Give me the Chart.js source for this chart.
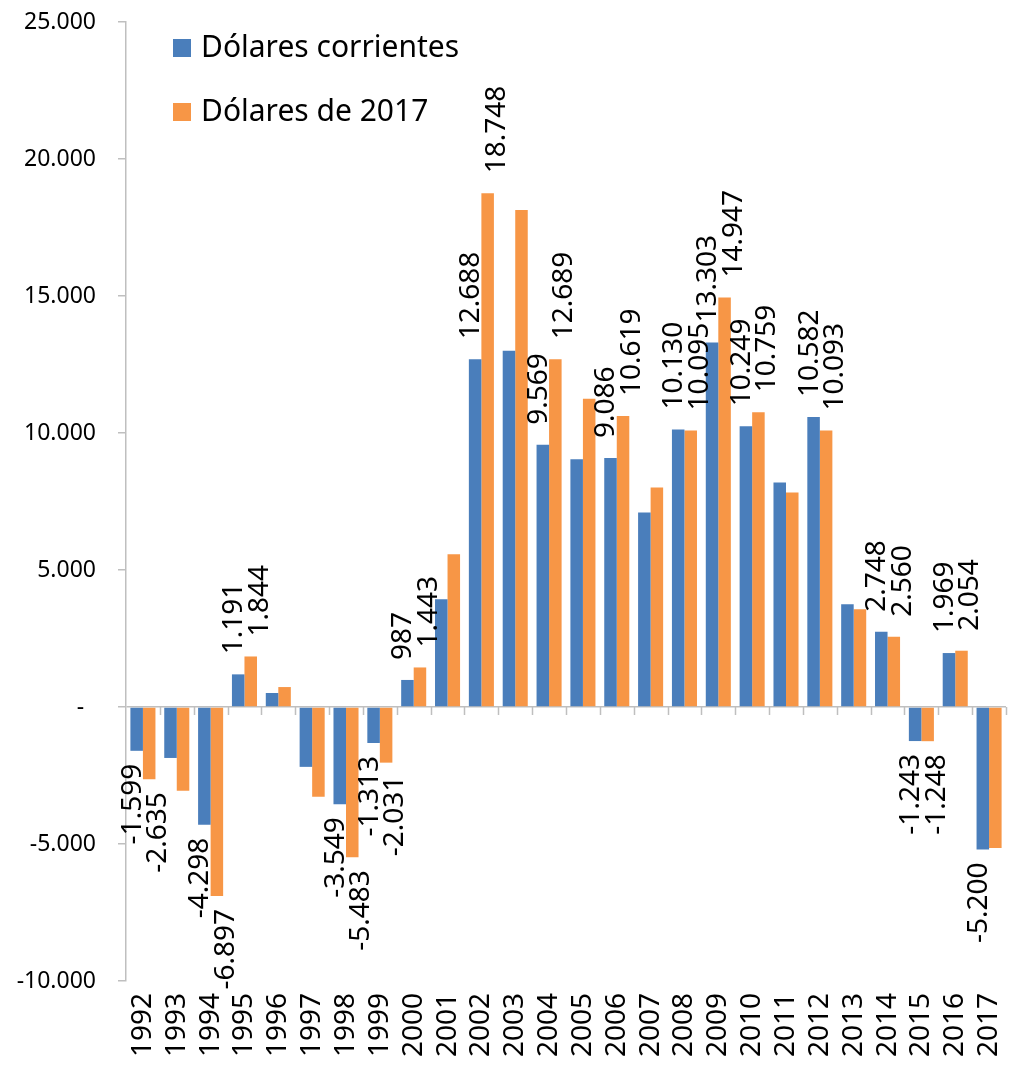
<!DOCTYPE html>
<html>
<head>
<meta charset="utf-8">
<script src="https://cdn.jsdelivr.net/npm/chart.js@4/dist/chart.umd.min.js"></script>
<style>
    body { margin: 0; background: #ffffff; }
    canvas { display: block; }
</style>
</head>
<body>
<canvas id="chart" width="1010" height="1074"></canvas>
<script>
const years = ["1992", "1993", "1994", "1995", "1996", "1997", "1998", "1999", "2000", "2001", "2002", "2003", "2004",
    "2005", "2006", "2007", "2008", "2009", "2010", "2011", "2012", "2013", "2014", "2015", "2016", "2017"];

const corrientes = [-1599, -1860, -4298, 1191, 510, -2185, -3549, -1313, 987, 3933, 12688, 13001, 9569,
    9040, 9086, 7101, 10130, 13303, 10249, 8194, 10582, 3751, 2748, -1243, 1969, -5200];

const de2017 = [-2635, -3059, -6897, 1844, 728, -3277, -5483, -2031, 1443, 5572, 18748, 18135, 12689,
    11253, 10619, 8012, 10095, 14947, 10759, 7830, 10093, 3569, 2560, -1248, 2054, -5150];

// 1 = value shown as a data label
const corrientesShown = [1, 0, 1, 1, 0, 0, 1, 1, 1, 0, 1, 0, 1, 0, 1, 0, 1, 1, 1, 0, 1, 0, 1, 1, 1, 1];
const de2017Shown = [1, 0, 1, 1, 0, 0, 1, 1, 1, 0, 1, 0, 1, 0, 1, 0, 1, 1, 1, 0, 1, 0, 1, 1, 1, 0];

const yTicks = [-10000, -5000, 0, 5000, 10000, 15000, 20000, 25000];

const BLUE = "#4a7ebb";
const ORANGE = "#f79646";
const AXIS = "#bfbfbf";
const FONT = "'Noto Sans', 'DejaVu Sans', sans-serif";

function fmt(v) {
    const s = Math.abs(v).toString().replace(/\B(?=(\d{3})+(?!\d))/g, ".");
    return (v < 0 ? "-" : "") + s;
}

const shown = [corrientesShown, de2017Shown];
const labelShift = [-4, 9];

const barLabels = {
    id: "barLabels",
    afterDatasetsDraw(chart) {
        const ctx = chart.ctx;
        ctx.save();
        ctx.font = `28px ${FONT}`;
        ctx.fillStyle = "#000000";
        ctx.textBaseline = "middle";
        chart.data.datasets.forEach((ds, di) => {
            const meta = chart.getDatasetMeta(di);
            meta.data.forEach((bar, i) => {
                if (!shown[di][i]) return;
                const v = ds.data[i];
                const x = bar.x + labelShift[di];
                ctx.save();
                if (v >= 0) {
                    ctx.translate(x, bar.y - 20);
                    ctx.rotate(-Math.PI / 2);
                    ctx.textAlign = "left";
                } else {
                    ctx.translate(x, bar.y + 13);
                    ctx.rotate(-Math.PI / 2);
                    ctx.textAlign = "right";
                }
                ctx.fillText(fmt(v), 0, 0);
                ctx.restore();
            });
        });
        ctx.restore();
    }
};

const zeroTicks = {
    id: "zeroTicks",
    beforeDatasetsDraw(chart) {
        const x = chart.scales.x;
        const y0 = chart.scales.y.getPixelForValue(0);
        const ctx = chart.ctx;
        const step = (x.right - x.left) / years.length;
        ctx.save();
        ctx.strokeStyle = AXIS;
        ctx.lineWidth = 1.5;
        for (let i = 1; i <= years.length; i++) {
            const px = Math.round(x.left + i * step) + 0.5;
            ctx.beginPath();
            ctx.moveTo(px, y0);
            ctx.lineTo(px, y0 + 8);
            ctx.stroke();
        }
        ctx.restore();
    }
};

const boxLegend = {
    id: "boxLegend",
    afterDraw(chart) {
        const ctx = chart.ctx;
        ctx.save();
        ctx.font = `30px ${FONT}`;
        ctx.textBaseline = "middle";
        ctx.textAlign = "left";
        chart.data.datasets.forEach((ds, i) => {
            const cy = 48 + i * 64;
            ctx.fillStyle = ds.backgroundColor;
            ctx.fillRect(173, cy - 9, 18, 18);
            ctx.fillStyle = "#000000";
            ctx.fillText(ds.label, 201, cy);
        });
        ctx.restore();
    }
};

new Chart(document.getElementById("chart").getContext("2d"), {
    type: "bar",
    data: {
        labels: years,
        datasets: [
            { label: "Dólares corrientes", data: corrientes, backgroundColor: BLUE, borderWidth: 0 },
            { label: "Dólares de 2017", data: de2017, backgroundColor: ORANGE, borderWidth: 0 }
        ]
    },
    options: {
        responsive: false,
        animation: false,
        devicePixelRatio: 1,
        layout: { padding: { top: 22, right: 4, left: 0, bottom: 0 } },
        datasets: { bar: { categoryPercentage: 0.74, barPercentage: 1 } },
        plugins: {
            legend: { display: false },
            tooltip: { enabled: false }
        },
        scales: {
            x: {
                grid: { display: false },
                border: { display: false },
                ticks: {
                    color: "#000000",
                    font: { family: FONT, size: 28 },
                    minRotation: 90,
                    maxRotation: 90,
                    autoSkip: false,
                    padding: 4
                },
                afterFit(scale) {
                    scale.height = 93;
                    scale.paddingLeft = 0;
                    scale.paddingRight = 0;
                }
            },
            y: {
                min: -10000,
                max: 25000,
                afterBuildTicks(scale) { scale.ticks = yTicks.map(v => ({ value: v })); },
                ticks: {
                    color: "#000000",
                    font: { family: FONT, size: 23 },
                    padding: 22,
                    callback: v => v === 0 ? "-  " : fmt(v)
                },
                grid: {
                    drawOnChartArea: true,
                    color: c => (c.tick && c.tick.value === 0) ? AXIS : "rgba(0,0,0,0)",
                    lineWidth: 1.5,
                    tickColor: AXIS,
                    tickLength: 8
                },
                border: { color: AXIS, width: 1.5 },
                afterFit(scale) {
                    scale.width = 126;
                    scale.paddingTop = 0;
                    scale.paddingBottom = 0;
                }
            }
        }
    },
    plugins: [zeroTicks, barLabels, boxLegend]
});
</script>
</body>
</html>
